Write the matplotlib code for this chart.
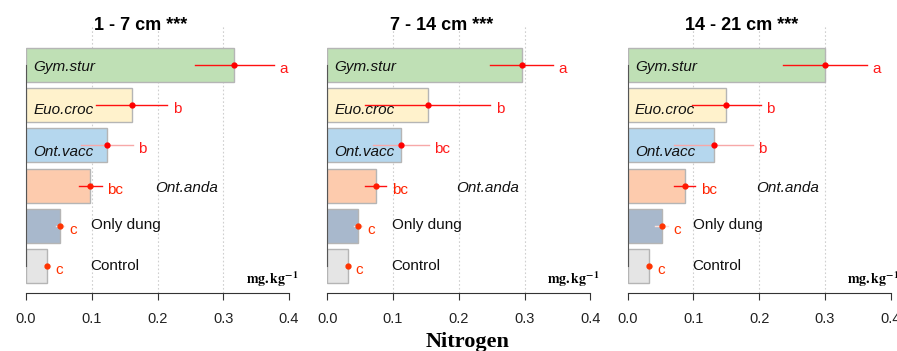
import numpy as np
import matplotlib
matplotlib.use("Agg")
import matplotlib.pyplot as plt

plt.rcParams['font.family'] = ['Liberation Sans', 'DejaVu Sans']
plt.rcParams['mathtext.fontset'] = 'stix'

# treatments, top to bottom
species = ['Gym.stur', 'Euo.croc', 'Ont.vacc', 'Ont.anda', 'Only dung', 'Control']
italic = [True, True, True, True, False, False]
depths = ['1 - 7 cm ***', '7 - 14 cm ***', '14 - 21 cm ***']

# mean nitrogen (mg.kg-1) per depth
n_mean = [
    [0.317, 0.161, 0.123, 0.098, 0.052, 0.032],
    [0.296, 0.153, 0.112, 0.074, 0.047, 0.031],
    [0.300, 0.150, 0.131, 0.087, 0.052, 0.033],
]
# error (+/-)
n_err = [
    [0.060, 0.054, 0.040, 0.017, 0.006, 0.004],
    [0.048, 0.095, 0.042, 0.016, 0.006, 0.004],
    [0.064, 0.052, 0.060, 0.016, 0.010, 0.004],
]
# significance groups
groups = [
    ['a', 'b', 'b', 'bc', 'c', 'c'],
    ['a', 'b', 'bc', 'bc', 'c', 'c'],
    ['a', 'b', 'b', 'bc', 'c', 'c'],
]

bar_colors = ['#bfe0b5', '#fff2cc', '#b5d7ee', '#fdcbad', '#a8b8cc', '#e5e5e5']
err_colors = ['#ff1010', '#ff1010', '#f7a8a8', '#ff1010', '#fde2dc', '#fde2dc']
pt_colors = ['#ff0000', '#ff0000', '#ff0000', '#ff1a00', '#ff3300', '#ff3300']
let_colors = ['#ff1a1a', '#ff1a1a', '#ff1a1a', '#ff2200', '#ff3300', '#ff3300']
label_x = [0.011, 0.011, 0.011, 0.196, 0.099, 0.098]
label_dy = [0.04, 0.12, 0.17, 0.05, -0.01, 0.0]

fig = plt.figure(figsize=(8.97, 3.51), dpi=100)
lefts = [26 / 897, 327.3 / 897, 627.7 / 897]
ypos = np.arange(len(species))[::-1]

for k in range(3):
    ax = fig.add_axes([lefts[k], 0.166, 263 / 897, 0.760])
    ax.set_xlim(0, 0.4)
    ax.set_ylim(-0.664, 5.97)
    for gx in [0.1, 0.2, 0.3]:
        ax.axvline(gx, color='#cfcfcf', lw=0.8, ls=(0, (1.5, 2)), zorder=0)
    ax.barh(ypos, n_mean[k], height=0.846, color=bar_colors,
            edgecolor='#b5b5b5', linewidth=1.0, zorder=1)
    for i, y in enumerate(ypos):
        m, e = n_mean[k][i], n_err[k][i]
        ax.plot([m - e, m + e], [y, y], color=err_colors[i], lw=1.0, zorder=2)
        ax.plot(m, y, 'o', color=pt_colors[i], ms=3.5, zorder=3)
        ax.text(m + e + 0.008, y - 0.2, groups[k][i], color=let_colors[i],
                fontsize=11, ha='left', va='baseline', zorder=4)
        ax.text(label_x[i], y - label_dy[i], species[i], fontsize=11,
                style='italic' if italic[i] else 'normal',
                ha='left', va='center', color='#111111', zorder=4)
    ax.text(0.414, -0.45, r'$\mathbf{mg.kg^{-1}}$', fontsize=10,
            ha='right', va='baseline', clip_on=False)
    ax.set_title(depths[k], x=0.435, fontsize=13, fontweight='bold', pad=0,
                 y=1.0, va='center')
    ax.spines['top'].set_visible(False)
    ax.spines['right'].set_visible(False)
    ax.spines['left'].set_bounds(0, 5)
    ax.spines['left'].set_color('#555555')
    ax.spines['bottom'].set_bounds(0, 0.4)
    ax.spines['bottom'].set_color('#333333')
    ax.set_yticks([])
    ax.set_xticks([0.0, 0.1, 0.2, 0.3, 0.4])
    ax.set_xticklabels(['0.0', '0.1', '0.2', '0.3', '0.4'])
    ax.tick_params(axis='x', direction='out', length=5, width=0.8,
                   labelsize=10.5, pad=9, colors='#333333', labelcolor='#222222')
    ax.patch.set_visible(False)

fig.text(467.5 / 897, 0.0123, 'Nitrogen', fontsize=16, fontweight='bold',
         family='Liberation Serif', ha='center', va='baseline')

fig.savefig('out.png', dpi=100)
